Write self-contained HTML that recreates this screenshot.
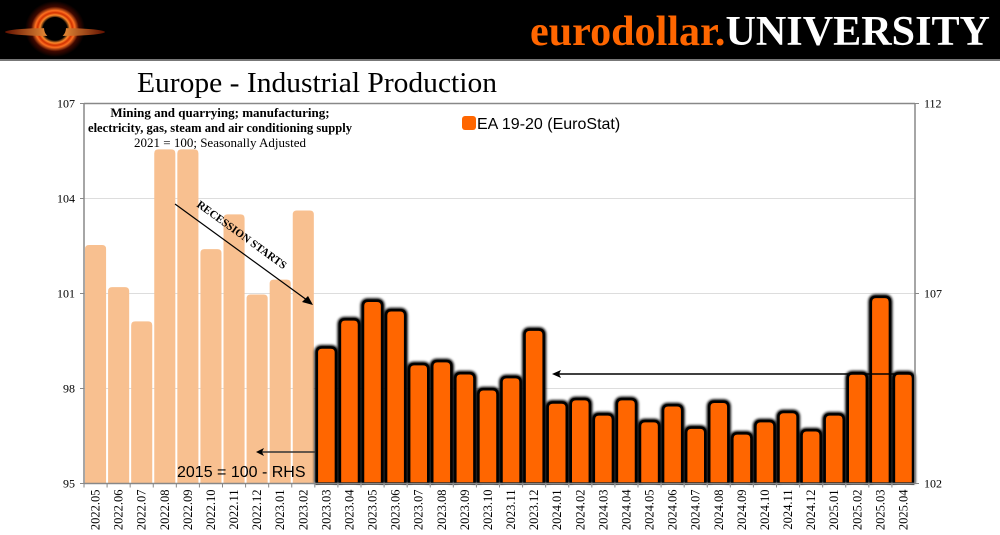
<!DOCTYPE html>
<html><head><meta charset="utf-8"><style>
html,body{margin:0;padding:0;background:#fff;}
svg{display:block;}
</style></head><body>
<svg id="chart" width="1000" height="535" viewBox="0 0 1000 535" xmlns="http://www.w3.org/2000/svg">
<defs>
<radialGradient id="ring" cx="50%" cy="50%" r="50%">
<stop offset="0.4" stop-color="#000"/><stop offset="0.5" stop-color="#ff8a2a"/><stop offset="0.58" stop-color="#d03000"/><stop offset="0.66" stop-color="#ff7020"/><stop offset="0.8" stop-color="#400800"/><stop offset="1" stop-color="#000"/>
</radialGradient>
<linearGradient id="disk" x1="0" x2="1"><stop offset="0" stop-color="#601000"/><stop offset="0.5" stop-color="#ffa040"/><stop offset="1" stop-color="#601000"/></linearGradient>
<filter id="glow" x="-30%" y="-10%" width="160%" height="120%"><feGaussianBlur stdDeviation="1.2"/></filter>
</defs>
<rect x="0" y="0" width="1000" height="60" fill="#000"/>
<rect x="0" y="59" width="1000" height="2" fill="#777"/>
<g>
<ellipse cx="55" cy="29" rx="30" ry="28" fill="url(#ring)"/>
<ellipse cx="55" cy="32" rx="50" ry="4" fill="url(#disk)"/>
<circle cx="55" cy="28" r="11" fill="#000"/>
</g>
<text x="530" y="45" textLength="460" lengthAdjust="spacingAndGlyphs" font-family="Liberation Serif, serif" font-size="42" font-weight="bold"><tspan fill="#ff6600">eurodollar.</tspan><tspan fill="#fff">UNIVERSITY</tspan></text>
<text x="137" y="92" textLength="360" lengthAdjust="spacingAndGlyphs" font-family="Liberation Serif, serif" font-size="29" fill="#000">Europe - Industrial Production</text>
<g id="grid"></g>
<g id="bars"></g>
<g id="axes"></g>
<g font-family="Liberation Serif, serif" text-anchor="middle" fill="#000">
<text x="220" y="117" font-size="13" font-weight="bold">Mining and quarrying; manufacturing;</text>
<text x="220" y="132" font-size="13" font-weight="bold" textLength="264" lengthAdjust="spacingAndGlyphs">electricity, gas, steam and air conditioning supply</text>
<text x="220" y="147" font-size="13">2021 = 100; Seasonally Adjusted</text>
</g>
<g>
<rect x="462" y="116" width="14" height="14" rx="3" fill="#ff6600"/>
<text x="477" y="129" font-family="Liberation Sans, sans-serif" font-size="16" fill="#000">EA 19-20 (EuroStat)</text>
</g>
<g>
<line x1="175" y1="204" x2="311" y2="303" stroke="#000" stroke-width="1.2"/>
<polygon points="313,305 302,302 308,296" fill="#000"/>
<text x="0" y="0" transform="translate(196,206) rotate(36)" font-family="Liberation Serif, serif" font-size="11" font-weight="bold" fill="#000">RECESSION STARTS</text>
</g>
<g>
<line x1="315" y1="452" x2="260" y2="452" stroke="#333" stroke-width="1.5"/>
<polygon points="256,452 264,448 262,452 264,456" fill="#000"/>
<text x="177" y="477" font-family="Liberation Sans, sans-serif" font-size="16" fill="#000">2015 = 100 - RHS</text>
</g>
<g>
<line x1="912" y1="374" x2="556" y2="374" stroke="#000" stroke-width="1.5"/>
<polygon points="552,374 561,370 559,374 561,378" fill="#000"/>
</g>
</svg>
<script>
const categories=["2022.05","2022.06","2022.07","2022.08","2022.09","2022.10","2022.11","2022.12","2023.01","2023.02","2023.03","2023.04","2023.05","2023.06","2023.07","2023.08","2023.09","2023.10","2023.11","2023.12","2024.01","2024.02","2024.03","2024.04","2024.05","2024.06","2024.07","2024.08","2024.09","2024.10","2024.11","2024.12","2025.01","2025.02","2025.03","2025.04"];
const lhsValues=[102.53,101.2,100.12,105.55,105.55,102.4,103.5,100.97,101.44,103.62];
const rhsValues=[105.58,106.32,106.81,106.56,105.14,105.22,104.9,104.48,104.8,106.05,104.13,104.22,103.82,104.22,103.64,104.06,103.47,104.15,103.32,103.64,103.88,103.4,103.82,104.9,106.91,104.9];
const lhsTicks=[95,98,101,104,107];
const rhsTicks=[102,107,112];
const NS="http://www.w3.org/2000/svg";
const X0=84,X1=915,Y0=483.5,Y1=103.5;
const slot=(X1-X0)/categories.length;
const yL=v=>Y0-(v-95)/(107-95)*(Y0-Y1);
const yR=v=>Y0-(v-102)/(112-102)*(Y0-Y1);
const xC=i=>X0+slot*(i+0.5);
function mk(tag,attrs,parent){const e=document.createElementNS(NS,tag);for(const k in attrs)e.setAttribute(k,attrs[k]);parent.appendChild(e);return e;}
const grid=document.getElementById('grid'),bars=document.getElementById('bars'),axes=document.getElementById('axes');
lhsTicks.forEach(t=>{if(t===95||t===107)return;const l=mk('line',{x1:X0,x2:X1,y1:yL(t),y2:yL(t),stroke:'#ddd','stroke-width':1},grid);

});
lhsValues.forEach((v,i)=>{const w=slot-2,x=xC(i)-w/2,y=yL(v);
const p=mk('path',{d:`M${x},${Y0}V${y+4}Q${x},${y} ${x+4},${y}H${x+w-4}Q${x+w},${y} ${x+w},${y+4}V${Y0}Z`,fill:'#f8c090'},bars);

});
rhsValues.forEach((v,j)=>{const i=j+10,w=slot-4,x=xC(i)-w/2,y=yR(v);
const d=`M${x},${Y0}V${y+5}Q${x},${y} ${x+5},${y}H${x+w-5}Q${x+w},${y} ${x+w},${y+5}V${Y0}`;
mk('path',{d:d,fill:'none',stroke:'#000','stroke-width':5,filter:'url(#glow)'},bars);
const p=mk('path',{d:d+'Z',fill:'#ff6600',stroke:'#000','stroke-width':2.5},bars);

});
mk('line',{x1:X0,x2:X0,y1:Y1,y2:Y0,stroke:'#888','stroke-width':1.5},axes);
mk('line',{x1:X1,x2:X1,y1:Y1,y2:Y0,stroke:'#888','stroke-width':1.5},axes);
mk('line',{x1:X0,x2:X1,y1:Y1,y2:Y1,stroke:'#888','stroke-width':1.5},axes);
mk('line',{x1:X0,x2:X1,y1:Y0,y2:Y0,stroke:'#888','stroke-width':1.5},axes);
lhsTicks.forEach(t=>{mk('line',{x1:X0-4,x2:X0,y1:yL(t),y2:yL(t),stroke:'#888'},axes);
const e=mk('text',{x:X0-9,y:yL(t)+4,'text-anchor':'end','font-family':'Liberation Serif, serif','font-size':12,fill:'#000'},axes);e.textContent=t;

});
rhsTicks.forEach(t=>{mk('line',{x1:X1,x2:X1+4,y1:yR(t),y2:yR(t),stroke:'#888'},axes);
const e=mk('text',{x:X1+9,y:yR(t)+4,'font-family':'Liberation Serif, serif','font-size':12,fill:'#000'},axes);e.textContent=t;

});
categories.forEach((c,i)=>{const xt=X0+slot*i;mk('line',{x1:xt,x2:xt,y1:Y0,y2:Y0+4,stroke:'#888'},axes);
const x=xC(i)+4;const e=mk('text',{x:0,y:0,transform:`translate(${x},${Y0+6}) rotate(-90)`,'text-anchor':'end','font-family':'Liberation Serif, serif','font-size':12.5,fill:'#000'},axes);e.textContent=c;

});
</script>
</body></html>
